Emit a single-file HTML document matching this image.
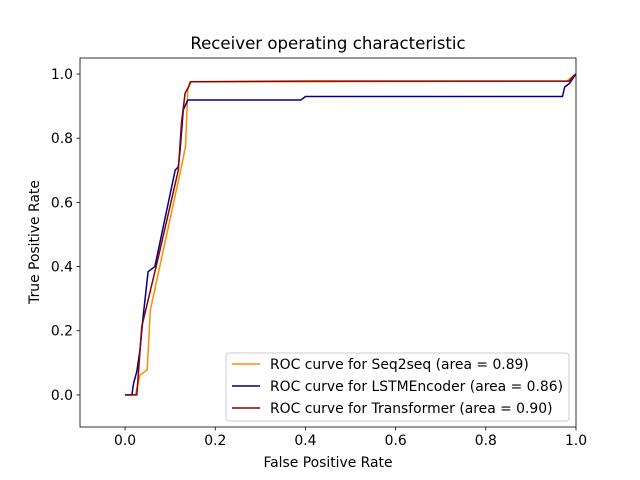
<!DOCTYPE html>
<html><head><meta charset="utf-8"><style>
body{margin:0;background:#fff;}
svg{display:block;font-family:"DejaVu Sans","Liberation Sans",sans-serif;}
</style></head><body>
<svg id="chart" width="640" height="480">
<rect width="640" height="480" fill="#fff"/>
<text x="328" y="49" font-size="16.6" text-anchor="middle">Receiver operating characteristic</text>
<g id="plot"></g>
<g id="axes"></g>
<text x="328" y="467" font-size="13.9" text-anchor="middle">False Positive Rate</text>
<text transform="translate(39,242) rotate(-90)" font-size="13.9" text-anchor="middle">True Positive Rate</text>
<g>
<rect x="226" y="353" width="343" height="68" rx="3" fill="#fff" fill-opacity="0.8" stroke="#ccc"/>
<line x1="232" y1="364" x2="260" y2="364" stroke="#ff8c00" stroke-width="1.5"/>
<text x="270" y="369" font-size="13.9">ROC curve for Seq2seq (area = 0.89)</text>
<line x1="232" y1="386" x2="260" y2="386" stroke="#00008b" stroke-width="1.5"/>
<text x="270" y="391" font-size="13.9">ROC curve for LSTMEncoder (area = 0.86)</text>
<line x1="232" y1="408" x2="260" y2="408" stroke="#8b0000" stroke-width="1.5"/>
<text x="270" y="413" font-size="13.9">ROC curve for Transformer (area = 0.90)</text>
</g>
</svg>
<script>
const xTicks=[0.0,0.2,0.4,0.6,0.8,1.0];
const yTicks=[0.0,0.2,0.4,0.6,0.8,1.0];
const seq2seqFpr=[0,0.023,0.033,0.049,0.056,0.125,0.134,0.139,0.144,0.4,0.98,0.99,1.0];
const seq2seqTpr=[0,0,0.062,0.078,0.265,0.711,0.774,0.95,0.976,0.976,0.978,0.99,1.0];
const lstmFpr=[0,0.015,0.019,0.026,0.033,0.040,0.051,0.066,0.111,0.118,0.122,0.129,0.139,0.39,0.40,0.97,0.975,0.985,0.995,1.0];
const lstmTpr=[0,0,0.037,0.073,0.14,0.244,0.384,0.40,0.70,0.711,0.763,0.888,0.919,0.919,0.93,0.93,0.96,0.97,0.99,1.0];
const transFpr=[0,0.026,0.037,0.074,0.118,0.125,0.133,0.139,0.146,0.4,0.985,0.995,1.0];
const transTpr=[0,0,0.213,0.431,0.70,0.846,0.94,0.955,0.976,0.978,0.978,0.995,1.0];
const L=80,R=576,T=58,B=427,x0=-0.1,x1=1.0,y0=-0.1,y1=1.05;
const sx=v=>L+(v-x0)/(x1-x0)*(R-L), sy=v=>B-(v-y0)/(y1-y0)*(B-T);
const NS='http://www.w3.org/2000/svg';
const plot=document.getElementById('plot'), axes=document.getElementById('axes');
function line(fx,ty,color,name){
  const p=document.createElementNS(NS,'polyline');
  p.setAttribute('points',fx.map((v,i)=>sx(v)+','+sy(ty[i])).join(' '));
  p.setAttribute('fill','none');p.setAttribute('stroke',color);p.setAttribute('stroke-width','1.5');
  
  
  plot.appendChild(p);
}
const cp=document.createElementNS(NS,'clipPath');cp.id='c';
const cr=document.createElementNS(NS,'rect');cr.setAttribute('x',L);cr.setAttribute('y',T);cr.setAttribute('width',R-L);cr.setAttribute('height',B-T);
cp.appendChild(cr);document.getElementById('chart').appendChild(cp);
plot.setAttribute('clip-path','url(#c)');
line(seq2seqFpr,seq2seqTpr,'#ff8c00','seq2seq-curve');
line(lstmFpr,lstmTpr,'#00008b','lstmencoder-curve');
line(transFpr,transTpr,'#8b0000','transformer-curve');
const fr=document.createElementNS(NS,'rect');
fr.setAttribute('x',L);fr.setAttribute('y',T);fr.setAttribute('width',R-L);fr.setAttribute('height',B-T);
fr.setAttribute('fill','none');fr.setAttribute('stroke','#000');fr.setAttribute('stroke-width','0.8');


axes.appendChild(fr);
xTicks.forEach(v=>{
  const x=sx(v);
  const l=document.createElementNS(NS,'line');
  l.setAttribute('x1',x);l.setAttribute('x2',x);l.setAttribute('y1',B);l.setAttribute('y2',B+3.5);l.setAttribute('stroke','#000');l.setAttribute('stroke-width','0.8');
  
  
  axes.appendChild(l);
  const t=document.createElementNS(NS,'text');
  t.setAttribute('x',x);t.setAttribute('y',B+18);t.setAttribute('font-size','13.9');t.setAttribute('text-anchor','middle');
  t.textContent=v.toFixed(1);
  
  
  axes.appendChild(t);
});
yTicks.forEach(v=>{
  const y=sy(v);
  const l=document.createElementNS(NS,'line');
  l.setAttribute('x1',L-3.5);l.setAttribute('x2',L);l.setAttribute('y1',y);l.setAttribute('y2',y);l.setAttribute('stroke','#000');l.setAttribute('stroke-width','0.8');
  
  
  axes.appendChild(l);
  const t=document.createElementNS(NS,'text');
  t.setAttribute('x',L-7);t.setAttribute('y',y+5);t.setAttribute('font-size','13.9');t.setAttribute('text-anchor','end');
  t.textContent=v.toFixed(1);
  
  
  axes.appendChild(t);
});
</script>
</body></html>
